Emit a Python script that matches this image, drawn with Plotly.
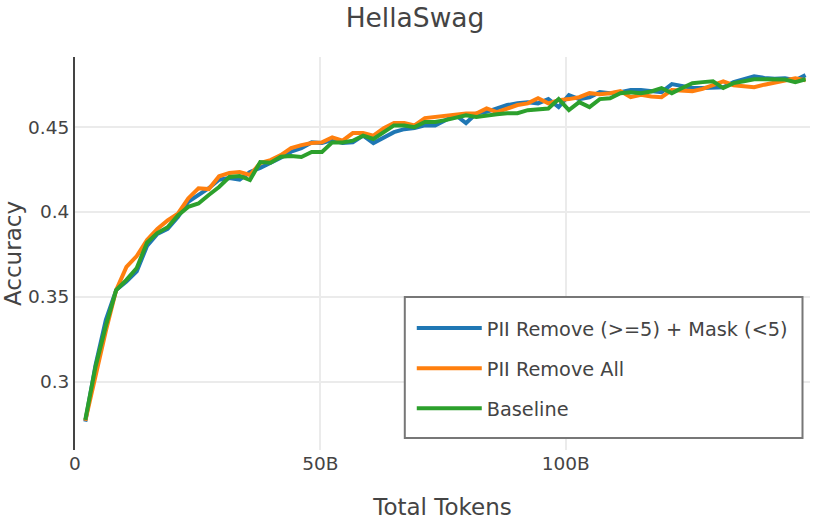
import plotly.graph_objects as go

# Training steps and tokens per step (2^21 tokens)
steps = list(range(1000, 72000, 1000))
tokens_per_step = 2097152
tokens = [s * tokens_per_step for s in steps]

series_names = ["PII Remove (>=5) + Mask (<5)", "PII Remove All", "Baseline"]
series_colors = ["#1f77b4", "#ff7f0e", "#2ca02c"]

pii_remove_mask = [
    0.2765, 0.310, 0.3365, 0.354, 0.359, 0.365, 0.380, 0.387, 0.390, 0.397,
    0.406, 0.410, 0.414, 0.419, 0.420, 0.419, 0.4235, 0.426, 0.4288, 0.432,
    0.4355, 0.4376, 0.441, 0.4406, 0.4424, 0.4406, 0.441, 0.445, 0.4406, 0.444,
    0.447, 0.4488, 0.4494, 0.451, 0.451, 0.4541, 0.457, 0.4524, 0.458, 0.459,
    0.461, 0.463, 0.464, 0.4647, 0.464, 0.4665, 0.4618, 0.4688, 0.4665, 0.4676,
    0.4706, 0.470, 0.4706, 0.4718, 0.4718, 0.471, 0.4706, 0.4753, 0.4741, 0.473,
    0.473, 0.4735, 0.4735, 0.4765, 0.478, 0.480, 0.479, 0.4785, 0.4788, 0.4776,
    0.4806,
]

pii_remove_all = [
    0.277, 0.304, 0.330, 0.354, 0.3676, 0.374, 0.3835, 0.390, 0.395, 0.399,
    0.408, 0.414, 0.4135, 0.421, 0.423, 0.4235, 0.4218, 0.4288, 0.4306, 0.4335,
    0.4376, 0.4394, 0.4406, 0.441, 0.444, 0.442, 0.4465, 0.4465, 0.445, 0.4494,
    0.4524, 0.4524, 0.451, 0.4553, 0.4559, 0.4565, 0.4576, 0.458, 0.458, 0.461,
    0.4588, 0.461, 0.463, 0.464, 0.467, 0.464, 0.4659, 0.4665, 0.4676, 0.470,
    0.4694, 0.470, 0.4712, 0.4676, 0.469, 0.468, 0.4676, 0.4718, 0.4715, 0.4712,
    0.4725, 0.4745, 0.477, 0.4747, 0.474, 0.4735, 0.475, 0.4765, 0.4775, 0.4788,
    0.4776,
]

baseline = [
    0.2776, 0.309, 0.333, 0.354, 0.360, 0.367, 0.382, 0.3876, 0.391, 0.398,
    0.403, 0.405, 0.410, 0.4147, 0.4206, 0.4212, 0.4188, 0.4294, 0.4290, 0.4325,
    0.433, 0.4324, 0.4353, 0.4353, 0.441, 0.441, 0.442, 0.445, 0.443, 0.447,
    0.451, 0.451, 0.450, 0.453, 0.453, 0.4541, 0.4553, 0.457, 0.456, 0.457,
    0.4576, 0.4582, 0.4582, 0.460, 0.4606, 0.461, 0.4665, 0.460, 0.4647, 0.4618,
    0.4665, 0.467, 0.470, 0.4706, 0.470, 0.471, 0.473, 0.470, 0.473, 0.4759,
    0.4765, 0.477, 0.473, 0.4759, 0.477, 0.4782, 0.4782, 0.4782, 0.478, 0.4765,
    0.4782,
]

y_ticks = [0.3, 0.35, 0.4, 0.45]
y_tick_labels = ["0.3", "0.35", "0.4", "0.45"]
x_ticks = [0, 50e9, 100e9]
x_tick_labels = ["0", "50B", "100B"]

fig = go.Figure()
for name, color, vals, grp in zip(series_names, series_colors,
                                  [pii_remove_mask, pii_remove_all, baseline],
                                  ["a", "b", "c"]):
    fig.add_trace(go.Scatter(x=tokens, y=vals, mode="lines", name=name,
                             legendgroup=grp,
                             line=dict(color=color, width=4)))

font_family = "DejaVu Sans"
fig.update_layout(
    width=830, height=520,
    margin=dict(l=75, r=19.5, t=57, b=70),
    paper_bgcolor="white", plot_bgcolor="white",
    font=dict(family=font_family, size=18.5, color="#444"),
    title=dict(text="HellaSwag", x=0.5, xanchor="center", y=0.9654,
               yanchor="middle", font=dict(size=26.5, color="#444")),
    xaxis=dict(
        title=dict(text="Total Tokens", font=dict(size=23), standoff=27),
        automargin=False,
        range=[0, 149.8e9], showgrid=True, gridcolor="#ebebeb", gridwidth=2,
        zeroline=False, showline=False, ticks="",
        tickvals=x_ticks, ticktext=x_tick_labels,
    ),
    yaxis=dict(
        title=dict(text="Accuracy", font=dict(size=23), standoff=10),
        automargin=False,
        range=[0.2598, 0.4913], showgrid=True, gridcolor="#ebebeb", gridwidth=2,
        zeroline=False, showline=True, linecolor="#444", linewidth=2, ticks="",
        tickvals=y_ticks, ticktext=y_tick_labels,
    ),
    legend=dict(
        x=0.4582, y=0.3588, xanchor="left", yanchor="top",
        bgcolor="rgba(0,0,0,0)", borderwidth=0,
        font=dict(size=19.3), tracegroupgap=12, itemwidth=65,
    ),
    shapes=[dict(type="rect", xref="paper", yref="paper",
                 x0=0.4487, x1=0.9898, y0=0.0305, y1=0.3893,
                 fillcolor="white", line=dict(color="#777", width=2),
                 layer="above")],
    showlegend=True,
)

fig.write_html("out.html", config={"displayModeBar": False},
               post_script="document.body.style.margin='0px';")
